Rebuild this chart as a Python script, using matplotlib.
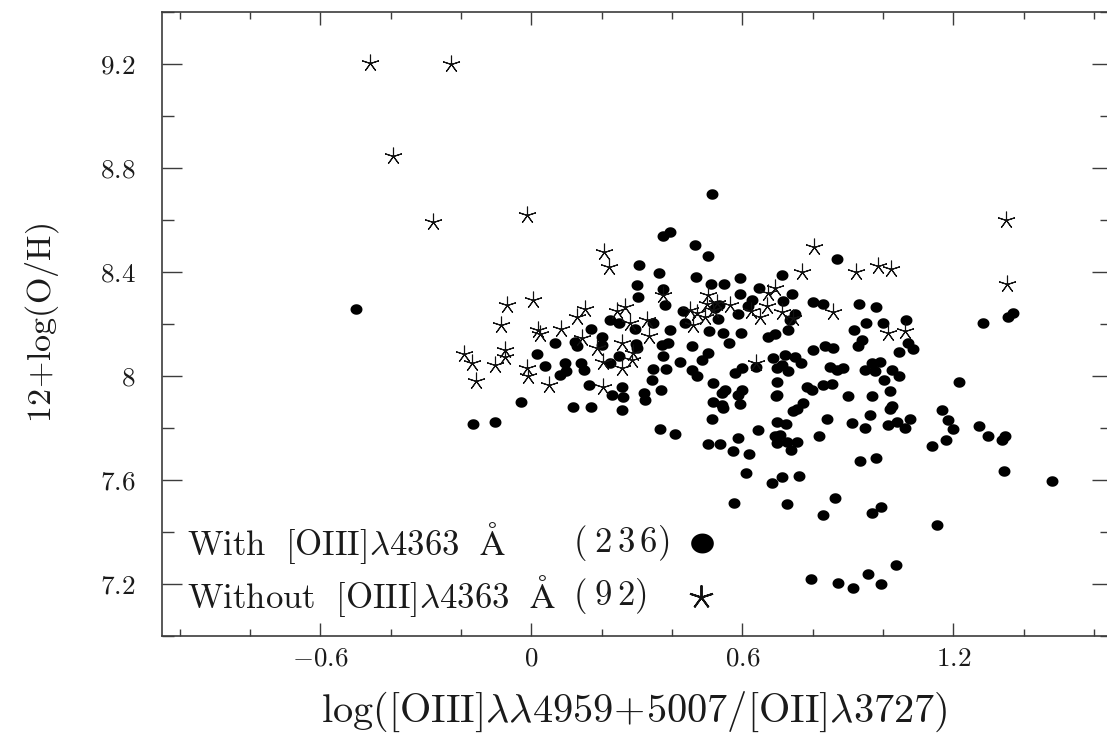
import numpy as np
import matplotlib
matplotlib.use('Agg')
import matplotlib.pyplot as plt
from matplotlib.path import Path
from matplotlib.ticker import MultipleLocator, FixedLocator, FixedFormatter

# ---------------- data ----------------
with_pts = [
    (-0.498, 8.259),
    (0.375, 8.539), (0.393, 8.555), (0.307, 8.427), (0.362, 8.395), (0.300, 8.350), (0.374, 8.333),
    (0.304, 8.305), (0.380, 8.273), (0.224, 8.216), (0.249, 8.203), (0.169, 8.181), (0.345, 8.205),
    (0.295, 8.181), (0.393, 8.177), (0.202, 8.151), (0.067, 8.126), (0.124, 8.130), (0.129, 8.113),
    (0.202, 8.117), (0.297, 8.123), (0.300, 8.107), (0.371, 8.119), (0.390, 8.126), (0.015, 8.085),
    (0.250, 8.078), (0.224, 8.051), (0.375, 8.075), (0.039, 8.039), (0.096, 8.051), (0.140, 8.051),
    (0.099, 8.017), (0.150, 8.023), (0.082, 8.005), (0.345, 8.026), (0.382, 8.027), (0.342, 7.985),
    (0.165, 7.966), (0.257, 7.959), (0.319, 7.933), (0.369, 7.946), (0.229, 7.927), (-0.030, 7.901),
    (-0.167, 7.814), (-0.103, 7.822), (0.118, 7.879), (0.169, 7.879), (0.257, 7.867), (0.262, 7.920),
    (0.323, 7.908), (0.366, 7.795), (0.409, 7.777),
    (0.515, 8.700), (0.465, 8.504), (0.503, 8.462), (0.868, 8.449), (0.467, 8.380), (0.593, 8.376),
    (0.712, 8.386), (0.510, 8.354), (0.549, 8.354), (0.593, 8.314), (0.646, 8.337), (0.740, 8.316),
    (0.627, 8.292), (0.617, 8.269), (0.717, 8.286), (0.802, 8.284), (0.830, 8.277), (0.933, 8.277),
    (0.980, 8.264), (0.534, 8.273), (0.522, 8.260), (0.432, 8.248), (0.589, 8.237), (0.750, 8.239),
    (0.736, 8.216), (0.437, 8.203), (0.532, 8.218), (0.731, 8.177), (0.952, 8.205), (1.000, 8.205),
    (1.065, 8.216), (0.506, 8.171), (0.595, 8.164), (0.546, 8.164), (0.563, 8.126), (0.674, 8.151),
    (0.693, 8.162), (0.918, 8.175), (0.939, 8.139), (0.930, 8.113), (1.072, 8.128), (1.086, 8.104),
    (1.044, 8.090), (0.456, 8.115), (0.503, 8.087), (0.484, 8.062), (0.802, 8.100), (0.835, 8.113),
    (0.857, 8.107), (0.423, 8.055), (0.456, 8.023), (0.472, 7.998), (0.579, 8.010), (0.598, 8.030),
    (0.639, 8.036), (0.688, 8.068), (0.721, 8.081), (0.750, 8.074), (0.766, 8.049), (0.698, 8.030),
    (0.731, 8.017), (0.712, 8.042), (0.849, 8.036), (0.887, 8.030), (0.868, 8.021), (0.949, 8.023),
    (0.968, 8.051), (0.991, 8.055), (0.977, 8.017), (1.003, 7.985), (1.025, 8.023), (1.044, 7.998),
    (0.518, 7.974), (0.551, 7.944), (0.541, 7.933), (0.598, 7.944), (0.589, 7.927), (0.698, 7.978),
    (0.698, 7.927), (0.783, 7.957), (0.797, 7.946), (0.830, 7.966), (0.854, 7.969), (0.901, 7.923),
    (0.968, 7.921), (1.020, 7.940),
    (0.696, 7.923), (0.518, 7.901), (0.541, 7.888), (0.546, 7.875), (0.593, 7.892), (0.773, 7.897),
    (0.745, 7.866), (0.754, 7.872), (0.840, 7.833), (0.911, 7.820), (0.963, 7.850), (0.949, 7.799),
    (1.025, 7.884), (1.020, 7.872), (1.015, 7.811), (1.041, 7.824), (1.077, 7.833), (1.062, 7.799),
    (0.513, 7.833), (0.644, 7.792), (0.698, 7.822), (0.724, 7.815), (0.589, 7.760), (0.503, 7.738),
    (0.536, 7.738), (0.573, 7.713), (0.619, 7.699), (0.693, 7.767), (0.707, 7.773), (0.698, 7.741),
    (0.726, 7.744), (0.754, 7.747), (0.737, 7.715), (0.819, 7.769), (0.935, 7.673), (0.980, 7.683),
    (0.609, 7.628), (0.683, 7.587), (0.712, 7.613), (0.762, 7.617), (0.576, 7.510), (0.726, 7.508),
    (0.864, 7.532), (0.830, 7.465), (0.968, 7.474), (0.993, 7.495), (0.794, 7.218), (0.873, 7.202),
    (0.914, 7.186), (0.956, 7.238), (0.993, 7.200), (1.037, 7.273),
    (1.285, 8.203), (1.356, 8.228), (1.370, 8.241), (1.216, 7.976), (1.167, 7.867), (1.184, 7.831),
    (1.198, 7.795), (1.178, 7.754), (1.138, 7.732), (1.274, 7.809), (1.299, 7.767), (1.337, 7.754),
    (1.347, 7.767), (1.344, 7.636), (1.481, 7.594), (1.154, 7.427),
]
with_x = [p[0] for p in with_pts]
with_y = [p[1] for p in with_pts]

without_pts = [
    (-0.460, 9.204), (-0.229, 9.198), (-0.394, 8.845), (-0.280, 8.591), (-0.013, 8.617),
    (0.207, 8.475), (0.221, 8.417), (-0.068, 8.273), (0.004, 8.290), (-0.085, 8.194), (0.020, 8.177),
    (0.025, 8.162), (0.084, 8.181), (0.153, 8.258), (0.129, 8.228), (0.243, 8.251), (0.266, 8.263),
    (-0.190, 8.085), (-0.170, 8.049), (-0.075, 8.100), (-0.075, 8.072), (-0.103, 8.041), (-0.158, 7.981),
    (-0.013, 8.030), (-0.008, 7.998), (0.050, 7.966), (0.143, 8.145), (0.186, 8.107), (0.259, 8.126),
    (0.205, 8.055), (0.257, 8.030), (0.285, 8.062), (0.203, 7.959), (0.281, 8.203), (0.328, 8.216),
    (0.336, 8.152), (0.375, 8.312), (0.290, 8.087),
    (0.804, 8.494), (0.769, 8.399), (0.923, 8.399), (0.987, 8.423), (1.023, 8.410), (0.857, 8.245),
    (1.015, 8.164), (1.063, 8.171), (0.693, 8.337), (0.674, 8.318), (0.503, 8.312), (0.565, 8.273),
    (0.669, 8.269), (0.650, 8.228), (0.712, 8.244), (0.745, 8.222), (0.624, 8.248), (0.499, 8.277),
    (0.451, 8.254), (0.470, 8.241), (0.494, 8.228), (0.459, 8.196), (0.527, 8.282), (0.639, 8.051),
    (0.518, 8.254),
    (1.351, 8.598), (1.353, 8.353),
]
without_x = [p[0] for p in without_pts]
without_y = [p[1] for p in without_pts]

n_with = 236
n_without = 92

x_ticks = [-0.6, 0.0, 0.6, 1.2]
x_ticklabels = [r'$-0.6$', r'$0$', r'$0.6$', r'$1.2$']
y_ticks = [7.2, 7.6, 8.0, 8.4, 8.8, 9.2]
y_ticklabels = [r'$7.2$', r'$7.6$', r'$8$', r'$8.4$', r'$8.8$', r'$9.2$']

xlabel = r'$\mathrm{log([OIII]\lambda\lambda4959\!+\!5007/[OII]\lambda3727)}$'
ylabel = r'$\mathrm{12\!+\!log(O/H)}$'
leg1 = r'$\mathrm{With\ \ [OIII]\lambda4363\ \ \AA}$'
leg2 = r'$\mathrm{Without\ \ [OIII]\lambda4363\ \ \AA}$'

def spaced(n):
    digits = r'\,'.join(str(n))
    return r'$\mathrm{(\;' + digits + r')}$'

# ---------------- figure ----------------
plt.rcParams['mathtext.fontset'] = 'cm'
W, H = 1107, 734
fig = plt.figure(figsize=(W / 100, H / 100), dpi=100)
ax = fig.add_axes([162 / W, 1 - 636 / H, (1112 - 162) / W, (636 - 11.7) / H])
ax.set_xlim(-1.05, 1.651)
ax.set_ylim(7.0, 9.4)

frame_col = '#3c3c3c'
txt_col = '#1a1a1a'
for s in ax.spines.values():
    s.set_color(frame_col)
    s.set_linewidth(1.2)

ax.xaxis.set_major_locator(FixedLocator(x_ticks))
ax.xaxis.set_major_formatter(FixedFormatter(x_ticklabels))
ax.xaxis.set_minor_locator(MultipleLocator(0.2))
ax.yaxis.set_major_locator(FixedLocator(y_ticks))
ax.yaxis.set_major_formatter(FixedFormatter(y_ticklabels))
ax.yaxis.set_minor_locator(MultipleLocator(0.2))

ax.tick_params(which='both', direction='in', top=True, right=True,
               color=frame_col, width=1.0, labelsize=19.5, labelcolor=txt_col)
ax.tick_params(axis='x', which='major', length=9.4, pad=7)
ax.tick_params(axis='x', which='minor', length=5)
ax.tick_params(axis='y', which='major', length=14.4, pad=19)
ax.tick_params(axis='y', which='minor', length=8.6)

# ellipse-shaped dot marker
t = np.linspace(0, 2 * np.pi, 64)
ell = Path(np.column_stack([np.cos(t), 0.88 * np.sin(t)]), closed=True)

ax.plot(with_x, with_y, ls='none', marker=ell, ms=8.6, mfc='black', mec='black', mew=0, zorder=3)
ax.plot(without_x, without_y, ls='none', marker=(5, 2, 0), ms=12.7, mec='#111111', mew=0.8, zorder=4)

fig.text(634 / W, 1 - 712 / H, xlabel, ha='center', va='center', fontsize=29, color=txt_col)
fig.text(42 / W, 1 - 323 / H, ylabel, ha='center', va='center', rotation=90, fontsize=24.5, color=txt_col)

# legend block
fig.text(187 / W, 1 - 543 / H, leg1, ha='left', va='center', fontsize=25, color=txt_col)
fig.text(573 / W, 1 - 543 / H, spaced(n_with), ha='left', va='center', fontsize=25, color=txt_col)
fig.text(187 / W, 1 - 596 / H, leg2, ha='left', va='center', fontsize=25, color=txt_col)
fig.text(573 / W, 1 - 596 / H, spaced(n_without), ha='left', va='center', fontsize=25, color=txt_col)
ax.plot([701.7 / W], [1 - 542.7 / H], transform=fig.transFigure, clip_on=False, ls='none',
        marker=ell, ms=16.3, mfc='black', mec='black', mew=0)
ax.plot([701 / W], [1 - 596.7 / H], transform=fig.transFigure, clip_on=False, ls='none',
        marker=(5, 2, 0), ms=17.4, mec='#111111', mew=1.4)

fig.savefig('out.png', dpi=100)
